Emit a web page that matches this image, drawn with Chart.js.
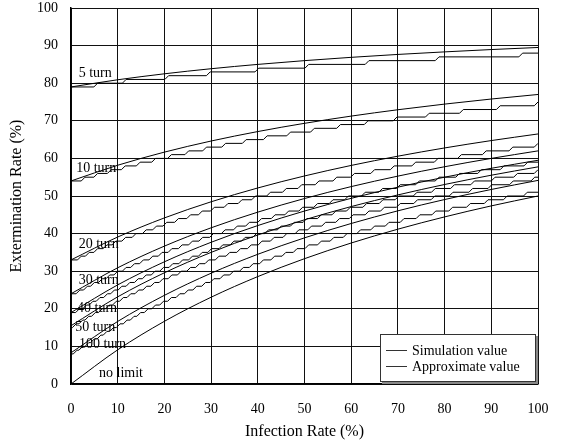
<!DOCTYPE html>
<html>
<head>
<meta charset="utf-8">
<script src="https://cdn.jsdelivr.net/npm/chart.js@4.4.1/dist/chart.umd.min.js"></script>
<style>
  html, body { margin: 0; padding: 0; background: #fff; }
  #wrap { width: 562px; height: 444px; }
</style>
</head>
<body>
<div id="wrap"><canvas id="chart" width="562" height="444"></canvas></div>
<script>
// Infection rate (%) where the approximate curves were read
const rates = [0, 10, 20, 30, 40, 50, 60, 70, 80, 90, 100];

// Approximate value (%) for each turn limit
const approx5 = [79.0, 80.91, 82.5, 83.85, 85.0, 86.0, 86.88, 87.65, 88.33, 88.95, 89.5];
const approx10 = [54.0, 58.18, 61.67, 64.62, 67.14, 69.33, 71.25, 72.94, 74.44, 75.79, 77.0];
const approx20 = [33.0, 39.09, 44.17, 48.46, 52.14, 55.33, 58.13, 60.59, 62.78, 64.74, 66.5];
const approx30 = [24.0, 30.91, 36.67, 41.54, 45.71, 49.33, 52.5, 55.29, 57.78, 60.0, 62.0];
const approx40 = [19.0, 26.36, 32.5, 37.69, 42.14, 46.0, 49.38, 52.35, 55.0, 57.37, 59.5];
const approx50 = [15.5, 23.18, 29.58, 35.0, 39.64, 43.67, 47.19, 50.29, 53.06, 55.53, 57.75];
const approx100 = [8.3, 16.64, 23.58, 29.46, 34.5, 38.87, 42.69, 46.06, 49.06, 51.74, 54.15];
const approxNoLimit = [0, 9.09, 16.67, 23.08, 28.57, 33.33, 37.5, 41.18, 44.44, 47.37, 50.0];

// Simulation value: level at 0% and the infection rates where it goes up by 1%
const sim5Start = 79;
const sim5Steps = [5.3, 11.4, 20.5, 29.4, 39.8, 50.5, 63.4, 78.4, 96.3];
const sim10Start = 54;
const sim10Steps = [2.6, 5.3, 8.2, 11.2, 14.4, 17.7, 21.1, 24.8, 28.6, 32.7, 37.1, 41.6, 46.6,
  51.7, 57.3, 63.2, 69.4, 76.3, 83.6, 91.5, 99.6];
const sim20Start = 33;
const sim20Steps = [1.8, 3.5, 5.3, 7.3, 9.2, 11.3, 13.5, 15.7, 17.9, 20.1, 22.6, 25.2, 27.7, 30.3,
  33.2, 36.2, 39.1, 42.3, 45.7, 49.0, 52.7, 56.5, 60.3, 64.6, 68.8, 73.4, 78.2, 83.2, 88.5, 94.2, 99.6];
const sim30Start = 24;
const sim30Steps = [1.5, 3.1, 4.6, 6.3, 7.9, 9.6, 11.4, 13.2, 15.1, 17.1, 19.1, 21.2, 23.4, 25.6,
  27.8, 30.1, 32.6, 35.2, 37.8, 40.4, 43.3, 46.2, 49.2, 52.4, 55.7, 59.0, 62.6, 66.3, 70.1, 74.2,
  78.4, 82.8, 87.5, 92.3, 97.4];
const sim40Start = 19;
const sim40Steps = [1.4, 2.9, 4.3, 5.8, 7.4, 8.9, 10.5, 12.2, 14.0, 15.7, 17.6, 19.4, 21.4, 23.5,
  25.6, 27.7, 29.7, 32.1, 34.5, 36.9, 39.3, 41.9, 44.6, 47.4, 50.1, 53.2, 56.3, 59.4, 62.9, 66.4,
  69.8, 73.7, 77.6, 81.7, 86.0, 90.4, 95.2, 99.6];
const sim50Start = 15;
const sim50Steps = [0.7, 2.1, 3.4, 4.8, 6.3, 7.8, 9.3, 10.8, 12.4, 14.1, 15.8, 17.5, 19.3, 21.2,
  23.2, 25.2, 27.1, 29.1, 31.3, 33.6, 35.9, 38.2, 40.5, 43.1, 45.8, 48.4, 51.1, 54.1, 57.1, 60.0,
  63.4, 66.7, 70.1, 73.8, 77.5, 81.4, 85.6, 89.7, 94.3, 98.9];
const sim100Start = 8;
const sim100Steps = [0.9, 2.1, 3.4, 4.6, 6.0, 7.3, 8.7, 10.1, 11.6, 13.1, 14.5, 16.1, 17.7, 19.4,
  21.1, 22.9, 24.7, 26.5, 28.4, 30.2, 32.3, 34.4, 36.5, 38.6, 40.8, 43.2, 45.6, 48.0, 50.5, 53.2,
  55.9, 58.7, 61.6, 64.6, 67.7, 70.9, 74.3, 77.7, 81.3, 85.1, 88.9, 93.0, 97.3];

const curveNames = ["5 turn", "10 turn", "20 turn", "30 turn", "40 turn", "50 turn", "100 turn", "no limit"];
const legendNames = ["Simulation value", "Approximate value"];
const axisTicks = [0, 10, 20, 30, 40, 50, 60, 70, 80, 90, 100];

const FONT = "'Liberation Serif', 'Times New Roman', serif";
const RISE = 0.4; // half width of a slanted step

const toPoints = (values) => values.map((v, i) => ({ x: rates[i], y: v }));

const stairs = (start, steps) => {
  const pts = [{ x: 0, y: start }];
  steps.forEach((s, i) => {
    pts.push({ x: s - RISE, y: start + i });
    pts.push({ x: s + RISE, y: start + i + 1 });
  });
  pts.push({ x: 100, y: start + steps.length });
  return pts;
};

const approxLine = (values) => ({
  data: toPoints(values),
  borderColor: "#000",
  borderWidth: 1,
  pointRadius: 0,
  cubicInterpolationMode: "monotone",
});

const simLine = (start, steps) => ({
  data: stairs(start, steps),
  borderColor: "#000",
  borderWidth: 1,
  pointRadius: 0,
  tension: 0,
});

const datasets = [
  simLine(sim5Start, sim5Steps),
  simLine(sim10Start, sim10Steps),
  simLine(sim20Start, sim20Steps),
  simLine(sim30Start, sim30Steps),
  simLine(sim40Start, sim40Steps),
  simLine(sim50Start, sim50Steps),
  simLine(sim100Start, sim100Steps),
  approxLine(approx5),
  approxLine(approx10),
  approxLine(approx20),
  approxLine(approx30),
  approxLine(approx40),
  approxLine(approx50),
  approxLine(approx100),
  approxLine(approxNoLimit),
];

// Where each curve name sits (chart units: rate, extermination)
const namePlaces = [[1.65, 82.7], [1.1, 57.4], [1.65, 37.2], [1.65, 27.7], [1.3, 20.2], [0.9, 15.2], [1.7, 10.6], [6.0, 2.9]];

const curveNamePlugin = {
  id: "curveNames",
  afterDatasetsDraw(chart) {
    const { ctx, scales } = chart;
    ctx.save();
    ctx.font = "14px " + FONT;
    ctx.fillStyle = "#000";
    ctx.textBaseline = "middle";
    ctx.textAlign = "left";
    curveNames.forEach((name, i) => {
      const [vx, vy] = namePlaces[i];
      ctx.fillText(name, scales.x.getPixelForValue(vx), scales.y.getPixelForValue(vy));
    });
    ctx.restore();
  },
};

const legendBoxPlugin = {
  id: "legendBox",
  afterDraw(chart) {
    const ctx = chart.ctx;
    const x = 380, y = 334, w = 156, h = 48;
    ctx.save();
    ctx.fillStyle = "#888";
    ctx.fillRect(x + 2, y + 2, w, h);
    ctx.fillStyle = "#fff";
    ctx.fillRect(x, y, w, h);
    ctx.strokeStyle = "#333";
    ctx.lineWidth = 1;
    ctx.strokeRect(x + 0.5, y + 0.5, w - 1, h - 1);
    ctx.font = "14px " + FONT;
    ctx.fillStyle = "#000";
    ctx.textBaseline = "middle";
    legendNames.forEach((name, i) => {
      const ly = y + 16.5 + i * 16;
      ctx.beginPath();
      ctx.moveTo(x + 6, ly);
      ctx.lineTo(x + 27, ly);
      ctx.stroke();
      ctx.fillText(name, x + 32, ly + 0.5);
    });
    ctx.restore();
  },
};

new Chart(document.getElementById("chart"), {
  type: "line",
  data: { datasets },
  options: {
    responsive: false,
    animation: false,
    events: [],
    layout: { padding: { left: 0, right: 24, top: 8, bottom: 0 } },
    plugins: { legend: { display: false }, tooltip: { enabled: false } },
    scales: {
      x: {
        type: "linear",
        min: 0,
        max: 100,
        afterFit: (s) => { s.height = 60; s.paddingLeft = 0; s.paddingRight = 0; },
        afterBuildTicks: (s) => { s.ticks = axisTicks.map((v) => ({ value: v })); },
        grid: { color: "#111", lineWidth: 1, drawTicks: false },
        border: { color: "#000", width: 1.5 },
        ticks: { color: "#000", padding: 17, font: { family: FONT, size: 14 } },
        title: { display: true, text: "Infection Rate (%)", color: "#000", padding: { top: 0, bottom: 3 },
          font: { family: FONT, size: 16 } },
      },
      y: {
        type: "linear",
        min: 0,
        max: 100,
        afterFit: (s) => { s.width = 71; s.paddingTop = 0; s.paddingBottom = 0; },
        afterBuildTicks: (s) => { s.ticks = axisTicks.map((v) => ({ value: v })); },
        grid: { color: "#111", lineWidth: 1, drawTicks: false },
        border: { color: "#000", width: 1.5 },
        ticks: { color: "#000", padding: 13, font: { family: FONT, size: 14 } },
        title: { display: true, text: "Extermination Rate (%)", color: "#000", padding: { top: 7, bottom: 0 },
          font: { family: FONT, size: 16 } },
      },
    },
  },
  plugins: [curveNamePlugin, legendBoxPlugin],
});
</script>
</body>
</html>
